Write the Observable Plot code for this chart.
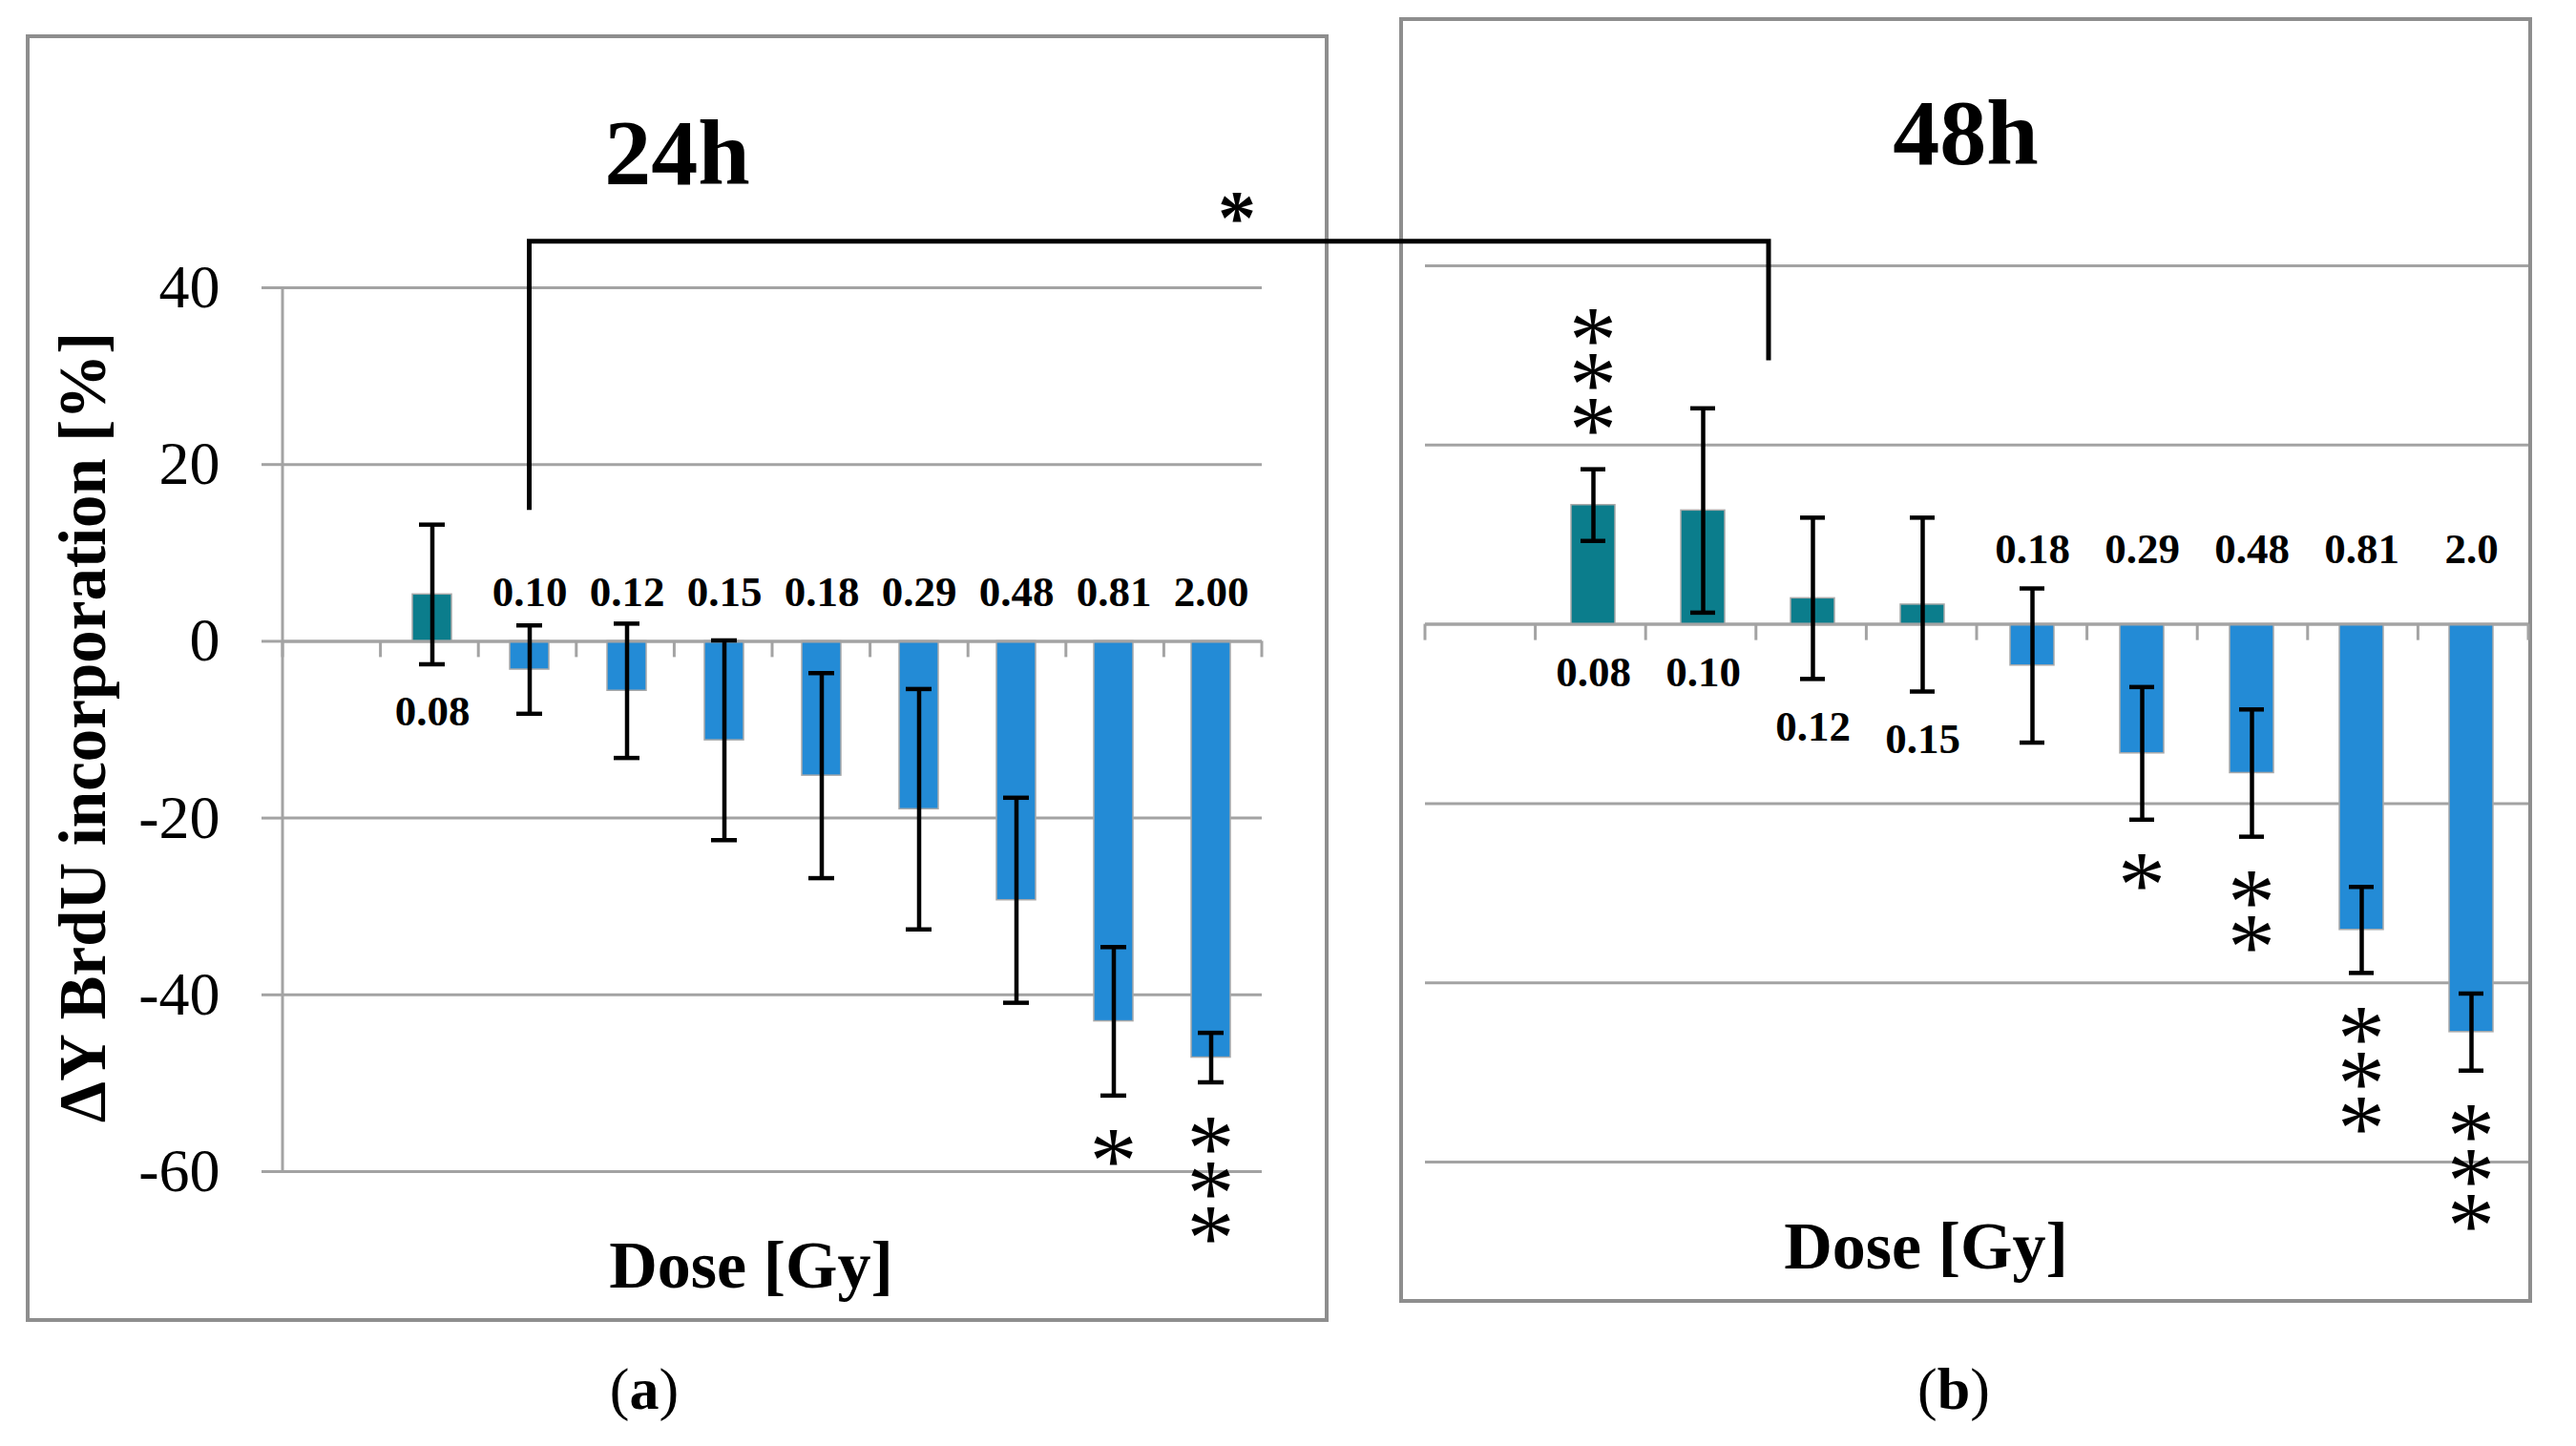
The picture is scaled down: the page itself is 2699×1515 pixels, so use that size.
<!DOCTYPE html>
<html>
<head>
<meta charset="utf-8">
<script src="https://cdn.jsdelivr.net/npm/d3@7"></script>
<script src="https://cdn.jsdelivr.net/npm/@observablehq/plot@0.6"></script>
<style>
  html, body { margin: 0; padding: 0; background: #fff; }
  body { width: 2699px; height: 1515px; position: relative; overflow: hidden; font-family: "Liberation Serif", "Times New Roman", serif; color: #000; }
  .panel { position: absolute; box-sizing: border-box; border: 4px solid #8e8e8e; background: #fff; }
  .panel svg { position: absolute; left: 0; top: 0; }
  .title { position: absolute; left: 0; width: 100%; text-align: center; font-weight: bold; font-size: 98px; line-height: 1; }
  .xlab { position: absolute; transform: translateX(-50%); font-weight: bold; font-size: 70px; line-height: 1; white-space: nowrap; }
  .ylab { position: absolute; transform: translate(-50%, -50%) rotate(-90deg); font-weight: bold; font-size: 69px; line-height: 1; white-space: nowrap; }
  .cap { position: absolute; transform: translateX(-50%); font-size: 62px; line-height: 1; white-space: nowrap; }
  #overlay { position: absolute; left: 0; top: 0; pointer-events: none; }
</style>
</head>
<body>
<div class="panel" id="pa" style="left:27px;top:36px;width:1365px;height:1349px"></div>
<div class="panel" id="pb" style="left:1466px;top:18px;width:1187px;height:1347px"></div>
<script>
// ---------- data ----------
const control = "0";
const doses24 = ["0.08", "0.10", "0.12", "0.15", "0.18", "0.29", "0.48", "0.81", "2.00"];
const mean24  = [5.3, -3.2, -5.6, -11.2, -15.2, -19.0, -29.3, -43.0, -47.1];
const err24   = [7.9, 5.0, 7.6, 11.3, 11.6, 13.6, 11.6, 8.4, 2.8];
const stars24 = [0, 0, 0, 0, 0, 0, 0, 1, 3];

const doses48 = ["0.08", "0.10", "0.12", "0.15", "0.18", "0.29", "0.48", "0.81", "2.0"];
const mean48  = [13.3, 12.7, 2.9, 2.2, -4.6, -14.4, -16.6, -34.1, -45.5];
const err48   = [4.0, 11.4, 9.0, 9.7, 8.6, 7.4, 7.1, 4.8, 4.3];
const stars48 = [3, 0, 0, 0, 0, 1, 2, 3, 3];

const yTicks = [40, 20, 0, -20, -40, -60];
const yDomain = [-60, 40];
const titles = ["24h", "48h"];
const xTitle = "Dose [Gy]";
const yTitle = "ΔY BrdU incorporation [%]";
const captions = ["a", "b"];

// comparison bracket (24h 0.10 vs 48h 0.10), levels in data units
const bracketDose = "0.10";
const bracketTop = 45.2;      // 24h units
const bracketLeftEnd = 14.8;  // 24h units
const bracketRightEnd = 29.4; // 48h units
const bracketLabel = "*";

// ---------- styles ----------
const teal = "#0b7d8c";
const blue = "#238bd6";
const gridColor = "#a3a3a3";
const starSize = 100;   // font size of significance asterisks
const starPitch = 47;   // vertical pitch of stacked asterisks

function makePanel({doses, mean, err, stars, width, height, mL, mR, mT, mB, showY, negDy, capInset}) {
  const data = doses.map((d, i) => ({
    dose: d, mean: mean[i], err: err[i], lo: mean[i] - err[i], hi: mean[i] + err[i], stars: stars[i]
  }));
  const domain = [control, ...doses];
  const n = domain.length;

  const decor = (index, scales, values, dims) => {
    const g = d3.create("svg:g").attr("stroke", gridColor).attr("stroke-width", 3).attr("fill", "none");
    const x0 = dims.marginLeft, x1 = dims.width - dims.marginRight;
    const y0 = scales.y(0);
    for (let k = 0; k <= n; k++) {
      const x = x0 + k * (x1 - x0) / n;
      g.append("line").attr("x1", x).attr("x2", x).attr("y1", y0).attr("y2", y0 + 17);
    }
    if (showY) {
      g.append("line").attr("x1", x0).attr("x2", x0)
        .attr("y1", scales.y(yDomain[1])).attr("y2", scales.y(yDomain[0]));
    }
    return g.node();
  };

  // significance asterisks: one text element per column, glyphs placed with per-glyph y lists
  const starMark = (index, scales, values, dims) => {
    const sx = scales.x, sy = scales.y;
    const bw = typeof sx.bandwidth === "function" ? sx.bandwidth() : (sx.bandwidth ?? 0);
    const g = d3.create("svg:g")
      .attr("font-family", "Liberation Serif").attr("font-size", starSize)
      .attr("text-anchor", "middle").attr("fill", "black");
    for (const d of data.filter(d => d.stars > 0)) {
      const cx = sx(d.dose) + bw / 2;
      const ks = d3.range(d.stars);
      const ys = d.mean < 0
        ? ks.map(k => sy(d.lo) + 102 + starPitch * k)
        : ks.map(k => sy(d.hi) - 8 - starPitch * k);
      g.append("text")
        .attr("x", ks.map(() => cx.toFixed(1)).join(" "))
        .attr("y", ys.map(v => v.toFixed(1)).join(" "))
        .text(ks.map(() => "*").join(""));
    }
    return g.node();
  };

  return Plot.plot({
    width, height,
    marginLeft: mL, marginRight: mR, marginTop: mT, marginBottom: mB,
    style: {fontFamily: "Liberation Serif", fontSize: "45px", background: "transparent", overflow: "visible"},
    x: {type: "band", domain, paddingInner: 0.6, paddingOuter: 0.3, axis: null},
    y: {domain: yDomain, axis: null},
    marks: [
      Plot.gridY(yTicks, {stroke: gridColor, strokeOpacity: 1, strokeWidth: 3}),
      showY ? Plot.axisY(yTicks, {tickSize: 22, tickPadding: 44, tickFormat: d => String(d), fontSize: 64,
        stroke: gridColor, strokeWidth: 3, fill: "black", label: null}) : null,
      Plot.barY(data, {x: "dose", y: "mean", fill: d => d.mean > 0 ? teal : blue, stroke: "#a9a9a9", strokeWidth: 1.5}),
      Plot.ruleY([0], {stroke: gridColor, strokeWidth: 3}),
      decor,
      Plot.ruleX(data, {x: "dose", y1: "lo", y2: "hi", stroke: "black", strokeWidth: 4.5}),
      Plot.tickY(data, {x: "dose", y: "lo", stroke: "black", strokeWidth: 4.5, inset: capInset}),
      Plot.tickY(data, {x: "dose", y: "hi", stroke: "black", strokeWidth: 4.5, inset: capInset}),
      Plot.text(data.filter(d => d.mean > 0), {x: "dose", y: d => Math.min(0, d.lo), text: "dose", dy: 50,
        fontWeight: "bold", fontSize: 45, fill: "black"}),
      Plot.text(data.filter(d => d.mean < 0), {x: "dose", y: () => 0, text: "dose", dy: negDy,
        fontWeight: "bold", fontSize: 45, fill: "black"}),
      starMark
    ]
  });
}

const pa = document.getElementById("pa");
const pb = document.getElementById("pb");

const p24 = makePanel({doses: doses24, mean: mean24, err: err24, stars: stars24,
  width: 1357, height: 1341, mL: 265, mR: 66, mT: 261, mB: 154, showY: true, negDy: -51, capInset: 7});
const p48 = makePanel({doses: doses48, mean: mean48, err: err48, stars: stars48,
  width: 1179, height: 1339, mL: 23, mR: 0, mT: 256, mB: 144, showY: false, negDy: -79, capInset: 10});
pa.appendChild(p24);
pb.appendChild(p48);

function addDiv(parent, cls, html, css) {
  const el = document.createElement("div");
  el.className = cls;
  el.innerHTML = html;
  Object.assign(el.style, css);
  parent.appendChild(el);
  return el;
}
addDiv(pa, "title", titles[0], {top: "71px"});
addDiv(pb, "title", titles[1], {top: "68px"});
addDiv(document.body, "xlab", xTitle, {left: "787px", top: "1291px"});
addDiv(document.body, "xlab", xTitle, {left: "2018px", top: "1271px"});
addDiv(document.body, "ylab", yTitle, {left: "87px", top: "762px"});
addDiv(document.body, "cap", `(<b>${captions[0]}</b>)`, {left: "675px", top: "1424px"});
addDiv(document.body, "cap", `(<b>${captions[1]}</b>)`, {left: "2047px", top: "1424px"});

// ---------- bracket overlay spanning both panels ----------
const body = document.body.getBoundingClientRect();
const ra = p24.getBoundingClientRect();
const rb = p48.getBoundingClientRect();
const xa = p24.scale("x"), ya = p24.scale("y");
const xb = p48.scale("x"), yb = p48.scale("y");
const center = (s, v) => s.apply(v) + s.bandwidth / 2;
const xL = ra.left - body.left + center(xa, bracketDose);
const iB = doses48.indexOf(bracketDose);
const cB0 = center(xb, bracketDose), cB1 = center(xb, doses48[iB + 1]);
const xR = rb.left - body.left + cB0 + 0.6 * (cB1 - cB0);
const yTop = ra.top - body.top + ya.apply(bracketTop);
const yLend = ra.top - body.top + ya.apply(bracketLeftEnd);
const yRend = rb.top - body.top + yb.apply(bracketRightEnd);

const ov = d3.select(document.body).append("svg").attr("id", "overlay")
  .attr("width", 2699).attr("height", 1515);
ov.append("path")
  .attr("d", `M${xL},${yLend}V${yTop}H${xR}V${yRend}`)
  .attr("fill", "none").attr("stroke", "black").attr("stroke-width", 5);
ov.append("text")
  .attr("x", xL + 0.571 * (xR - xL)).attr("y", yTop + 2)
  .attr("text-anchor", "middle")
  .attr("font-family", "Liberation Serif").attr("font-weight", "bold").attr("font-size", 80)
  .text(bracketLabel);
</script>
</body>
</html>
